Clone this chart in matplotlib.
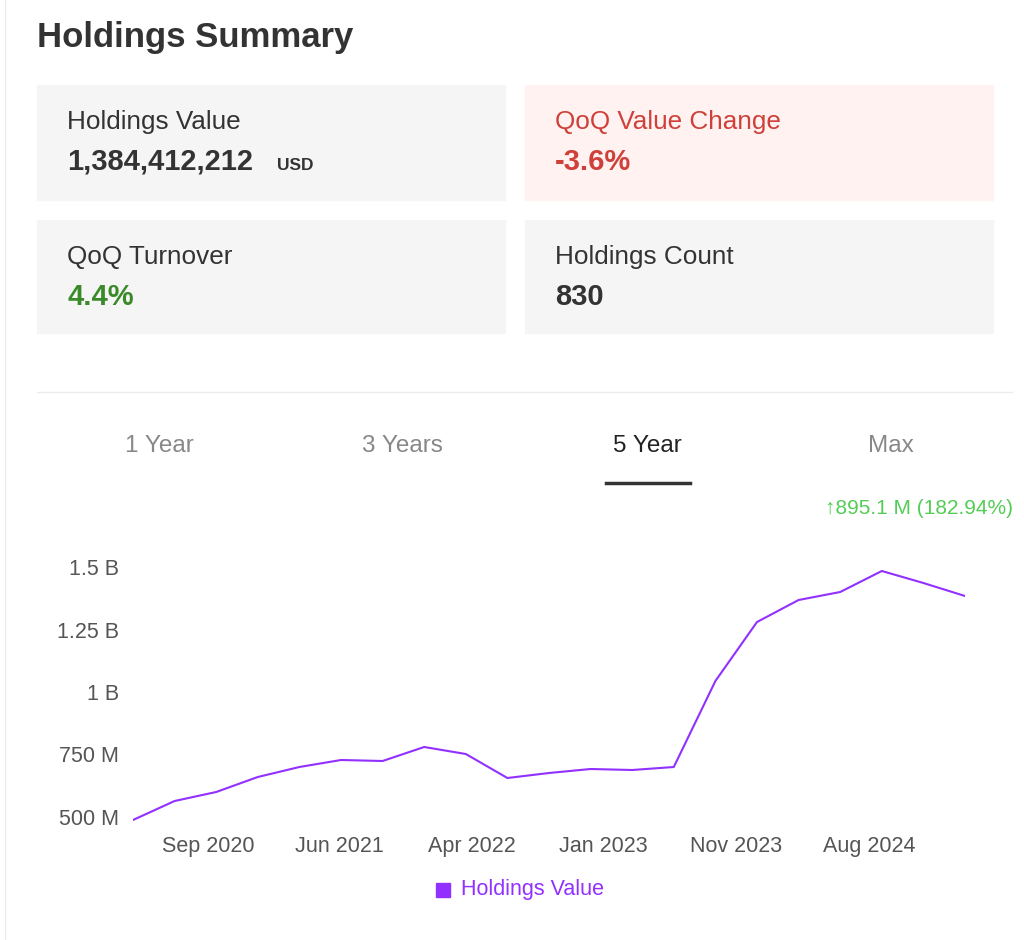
import matplotlib
matplotlib.use('Agg')
import matplotlib.pyplot as plt
from matplotlib.patches import Rectangle
from matplotlib.lines import Line2D

W, H = 1024, 940

# quarterly holdings value, millions USD
values = [488, 564, 600, 660, 700, 728, 724, 780, 752, 656, 676, 692, 688, 700,
          1044, 1280, 1368, 1400, 1484, 1436, 1384]
tick_pos = [1.8, 4.95, 8.15, 11.3, 14.5, 17.7]
tick_labels = ['Sep 2020', 'Jun 2021', 'Apr 2022', 'Jan 2023', 'Nov 2023', 'Aug 2024']
y_ticks = [500, 750, 1000, 1250, 1500]
y_labels = ['500 M', '750 M', '1 B', '1.25 B', '1.5 B']
tabs = ['1 Year', '3 Years', '5 Year', 'Max']
tab_x = [159, 402, 647, 891]

PURPLE = '#9130ff'
FONT = 'Liberation Sans'
plt.rcParams['font.family'] = FONT

fig = plt.figure(figsize=(W / 100, H / 100), dpi=100)
fig.patch.set_facecolor('white')


def fx(x):
    return x / W


def fy(y):
    return 1 - y / H


def box(x0, y0, x1, y1, color):
    fig.patches.append(Rectangle((fx(x0), fy(y1)), fx(x1 - x0), (y1 - y0) / H,
                                 transform=fig.transFigure, color=color, zorder=0))


fig.text(fx(37), fy(37), 'Holdings Summary', fontsize=25, fontweight='bold',
         color='#333333', va='center')

box(37, 85, 505, 200, '#f5f5f5')
box(525, 85, 993, 200, '#fff2f0')
box(37, 220, 505, 333, '#f5f5f5')
box(525, 220, 993, 333, '#f5f5f5')

fig.text(fx(67), fy(122), 'Holdings Value', fontsize=18.8, color='#333333', va='center')
fig.text(fx(67), fy(162), '1,384,412,212', fontsize=21, fontweight='bold', color='#333333', va='center')
fig.text(fx(277), fy(165), 'USD', fontsize=12.5, fontweight='bold', color='#333333', va='center')
fig.text(fx(555), fy(122), 'QoQ Value Change', fontsize=18.8, color='#d0403a', va='center')
fig.text(fx(555), fy(162), '-3.6%', fontsize=21, fontweight='bold', color='#d0403a', va='center')
fig.text(fx(67), fy(257), 'QoQ Turnover', fontsize=18.8, color='#333333', va='center')
fig.text(fx(67), fy(297), '4.4%', fontsize=21, fontweight='bold', color='#3a8a2a', va='center')
fig.text(fx(555), fy(257), 'Holdings Count', fontsize=18.8, color='#333333', va='center')
fig.text(fx(555), fy(297), '830', fontsize=21, fontweight='bold', color='#333333', va='center')

fig.lines.append(Line2D([fx(37), fx(1012)], [fy(392), fy(392)], transform=fig.transFigure,
                        color='#ececec', lw=1))
fig.lines.append(Line2D([fx(5), fx(5)], [0, 1], transform=fig.transFigure, color='#ececec', lw=1))

for t, x in zip(tabs, tab_x):
    fig.text(fx(x), fy(446), t, fontsize=17.5, ha='center', va='center',
             color='#222222' if t == '5 Year' else '#888888')
fig.lines.append(Line2D([fx(606), fx(690)], [fy(483), fy(483)], transform=fig.transFigure,
                        color='#333333', lw=2.5))

fig.text(fx(1013), fy(508), '\u2191895.1 M (182.94%)', fontsize=15, ha='right', va='center',
         color='#55cc55')

ax = fig.add_axes([fx(133), fy(825), fx(965 - 133), (825 - 555) / H])
ax.plot(range(len(values)), values, color=PURPLE, lw=1.5)
ax.set_xlim(0, len(values) - 1)
ax.set_ylim(468, 1548)
ax.set_yticks(y_ticks)
ax.set_yticklabels(y_labels)
ax.set_xticks(tick_pos)
ax.set_xticklabels(tick_labels)
ax.tick_params(length=0, labelsize=15.5, colors='#555555')
ax.tick_params(axis='y', pad=10)
ax.tick_params(axis='x', pad=8)
for s in ax.spines.values():
    s.set_visible(False)

fig.patches.append(Rectangle((fx(436), fy(897)), fx(14), 14 / H, transform=fig.transFigure,
                             color=PURPLE))
fig.text(fx(461), fy(890), 'Holdings Value', fontsize=15.5, color=PURPLE, va='center')

fig.savefig('out.png', dpi=100)
